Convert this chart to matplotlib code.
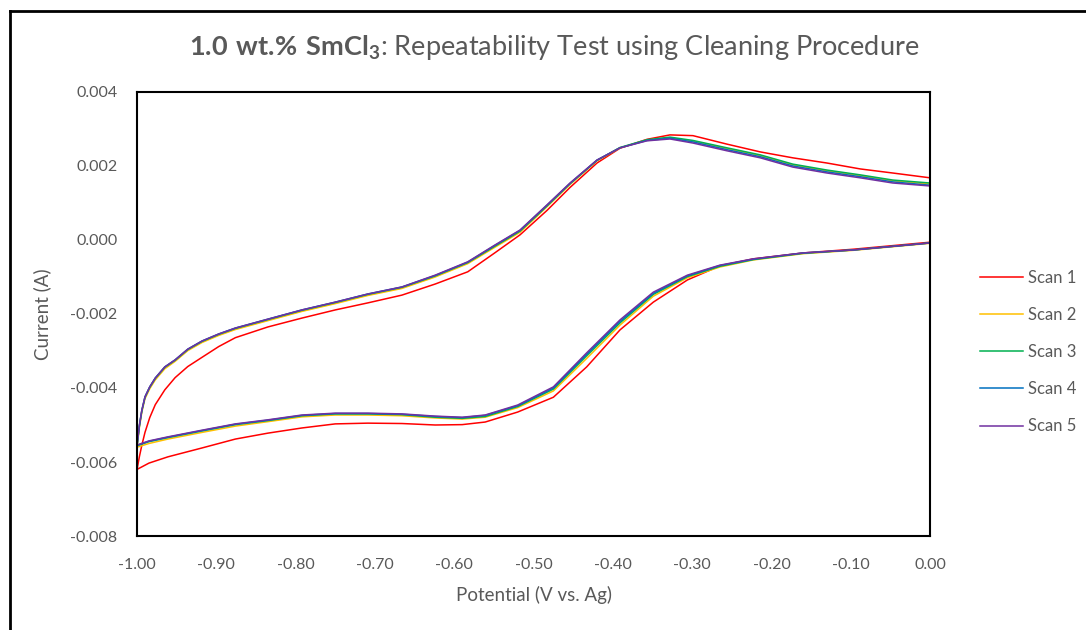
import matplotlib.pyplot as plt
from matplotlib.lines import Line2D

plt.rcParams["font.family"] = ["Lato", "DejaVu Sans"]
plt.rcParams["mathtext.fontset"] = "custom"
plt.rcParams["mathtext.rm"] = "Lato"
plt.rcParams["mathtext.bf"] = "Lato:bold"
plt.rcParams["axes.unicode_minus"] = False

# potential grid (V vs. Ag): cathodic sweep 0 -> -1, then anodic sweep -1 -> 0
e_cathodic = [0.000, -0.097, -0.160, -0.223, -0.265, -0.306, -0.349, -0.391, -0.433, -0.475,
              -0.520, -0.561, -0.590, -0.624, -0.666, -0.709, -0.750, -0.792, -0.835, -0.876,
              -0.918, -0.961, -0.985, -1.000]
e_anodic = [-1.000, -0.997, -0.994, -0.990, -0.984, -0.977, -0.965, -0.952, -0.936, -0.918,
            -0.897, -0.876, -0.835, -0.792, -0.750, -0.709, -0.666, -0.624, -0.583, -0.549,
            -0.517, -0.483, -0.454, -0.420, -0.391, -0.357, -0.328, -0.299, -0.256, -0.214,
            -0.173, -0.130, -0.088, -0.047, 0.000]

# current (A)
scan1_cath = [-0.00006, -0.00025, -0.00035, -0.00051, -0.00070, -0.00108, -0.00168, -0.00243, -0.00343, -0.00425,
              -0.00465, -0.00492, -0.00499, -0.00500, -0.00496, -0.00495, -0.00497, -0.00508, -0.00522, -0.00538,
              -0.00562, -0.00586, -0.00603, -0.00620]
scan1_anod = [-0.00620, -0.00585, -0.00555, -0.00520, -0.00480, -0.00445, -0.00405, -0.00372, -0.00342, -0.00317,
              -0.00288, -0.00264, -0.00235, -0.00211, -0.00189, -0.00170, -0.00149, -0.00119, -0.00086, -0.00035,
              0.00014, 0.00080, 0.00142, 0.00208, 0.00248, 0.00272, 0.00284, 0.00282, 0.00259, 0.00238,
              0.00222, 0.00208, 0.00192, 0.00181, 0.00168]

scan2_cath = [-0.00009, -0.00028, -0.00037, -0.00054, -0.00073, -0.00102, -0.00152, -0.00230, -0.00320, -0.00408,
              -0.00453, -0.00479, -0.00484, -0.00481, -0.00475, -0.00473, -0.00473, -0.00478, -0.00491, -0.00503,
              -0.00520, -0.00538, -0.00550, -0.00560]
scan2_anod = [-0.00560, -0.00506, -0.00466, -0.00429, -0.00402, -0.00378, -0.00348, -0.00328, -0.00299, -0.00277,
              -0.00258, -0.00242, -0.00218, -0.00193, -0.00172, -0.00150, -0.00131, -0.00100, -0.00064, -0.00020,
              0.00021, 0.00090, 0.00150, 0.00214, 0.00249, 0.00270, 0.00276, 0.00267, 0.00247, 0.00228,
              0.00203, 0.00187, 0.00174, 0.00160, 0.00151]

scan3_cath = [-0.00008, -0.00027, -0.00036, -0.00053, -0.00071, -0.00099, -0.00147, -0.00224, -0.00313, -0.00403,
              -0.00450, -0.00477, -0.00482, -0.00479, -0.00472, -0.00470, -0.00470, -0.00475, -0.00488, -0.00499,
              -0.00516, -0.00534, -0.00545, -0.00556]
scan3_anod = [-0.00556, -0.00502, -0.00462, -0.00425, -0.00398, -0.00374, -0.00344, -0.00325, -0.00296, -0.00274,
              -0.00255, -0.00239, -0.00215, -0.00190, -0.00169, -0.00147, -0.00128, -0.00097, -0.00061, -0.00017,
              0.00024, 0.00092, 0.00152, 0.00215, 0.00250, 0.00271, 0.00278, 0.00269, 0.00249, 0.00230,
              0.00205, 0.00189, 0.00176, 0.00162, 0.00154]

scan4_cath = [-0.00008, -0.00027, -0.00035, -0.00052, -0.00069, -0.00097, -0.00144, -0.00220, -0.00309, -0.00400,
              -0.00448, -0.00474, -0.00480, -0.00477, -0.00471, -0.00469, -0.00469, -0.00474, -0.00487, -0.00498,
              -0.00515, -0.00533, -0.00544, -0.00555]
scan4_anod = [-0.00555, -0.00501, -0.00461, -0.00424, -0.00397, -0.00373, -0.00343, -0.00324, -0.00295, -0.00273,
              -0.00254, -0.00238, -0.00214, -0.00189, -0.00168, -0.00146, -0.00127, -0.00096, -0.00060, -0.00015,
              0.00026, 0.00094, 0.00153, 0.00216, 0.00249, 0.00269, 0.00275, 0.00265, 0.00244, 0.00225,
              0.00200, 0.00184, 0.00171, 0.00157, 0.00148]

scan5_cath = [-0.00008, -0.00027, -0.00035, -0.00051, -0.00068, -0.00095, -0.00141, -0.00216, -0.00305, -0.00397,
              -0.00446, -0.00473, -0.00479, -0.00476, -0.00470, -0.00468, -0.00468, -0.00473, -0.00486, -0.00497,
              -0.00514, -0.00532, -0.00543, -0.00554]
scan5_anod = [-0.00554, -0.00500, -0.00460, -0.00424, -0.00397, -0.00373, -0.00343, -0.00324, -0.00295, -0.00273,
              -0.00254, -0.00238, -0.00214, -0.00189, -0.00168, -0.00146, -0.00127, -0.00095, -0.00059, -0.00014,
              0.00027, 0.00095, 0.00154, 0.00216, 0.00249, 0.00268, 0.00273, 0.00262, 0.00241, 0.00222,
              0.00197, 0.00181, 0.00168, 0.00154, 0.00146]

labels = ["Scan 1", "Scan 2", "Scan 3", "Scan 4", "Scan 5"]
colors = ["#FF0000", "#FFC000", "#00B050", "#0070C0", "#7030A0"]
scans = [(scan1_cath, scan1_anod), (scan2_cath, scan2_anod), (scan3_cath, scan3_anod),
         (scan4_cath, scan4_anod), (scan5_cath, scan5_anod)]

xticks = [-1.0, -0.9, -0.8, -0.7, -0.6, -0.5, -0.4, -0.3, -0.2, -0.1, 0.0]
yticks = [-0.008, -0.006, -0.004, -0.002, 0.0, 0.002, 0.004]

grey = "#595959"

fig = plt.figure(figsize=(10.86, 6.3), dpi=100)
ax = fig.add_axes([0.1262, 0.1492, 0.7302, 0.7048])

for (cath, anod), lab, col in zip(scans, labels, colors):
    ax.plot(e_cathodic + e_anodic, cath + anod, color=col, lw=1.1, label=lab)

ax.set_xlim(-1.0, 0.0)
ax.set_ylim(-0.008, 0.004)
ax.set_xticks(xticks)
ax.set_xticklabels([f"{v:.2f}" for v in xticks])
ax.set_yticks(yticks)
ax.set_yticklabels([f"{v:.3f}" for v in yticks])
ax.tick_params(length=0, labelsize=11.5, colors=grey)
ax.tick_params(axis="x", pad=16)
ax.tick_params(axis="y", pad=14)
for s in ax.spines.values():
    s.set_color("black")
    s.set_linewidth(1.5)

ax.set_xlabel("Potential (V vs. Ag)", fontsize=13.5, color=grey, labelpad=10)
ax.set_ylabel("Current (A)", fontsize=13.5, color=grey, labelpad=14)

fig.text(554 / 1086, 1 - 48 / 630,
         r"$\mathbf{1.0\ wt.\!\%\ SmCl_3}$: Repeatability Test using Cleaning Procedure",
         ha="center", va="center", fontsize=19.5, color=grey)

fig.legend(loc="center left", bbox_to_anchor=(980 / 1086, 1 - 352 / 630),
           frameon=False, fontsize=12, labelcolor=grey, handlelength=2.6,
           handletextpad=0.3, labelspacing=1.27, borderpad=0, borderaxespad=0)

# outer chart frame
fx = 9.5 / 1086
fy = 1 - 11 / 630
fig.add_artist(Line2D([fx, fx], [0, fy], transform=fig.transFigure, color="black", lw=2))
fig.add_artist(Line2D([fx, 1], [fy, fy], transform=fig.transFigure, color="black", lw=2))

fig.savefig("out.png", dpi=100)
